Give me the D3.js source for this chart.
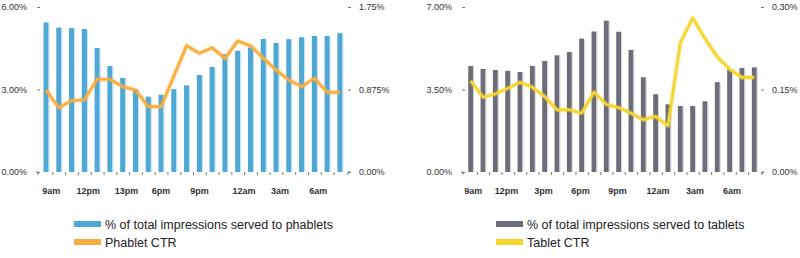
<!DOCTYPE html>
<html>
<head>
<meta charset="utf-8">
<script src="https://cdn.jsdelivr.net/npm/d3@7"></script>
<style>
body { margin: 0; background: #fff; }
svg { font-family: "Liberation Sans", Arial, sans-serif; }
.axis text { fill: #333; font-size: 9px; }
.axis line { stroke: #777; }
.xlab { font-size: 9px; font-weight: bold; fill: #333; text-anchor: middle; }
.legend text { font-size: 12.5px; fill: #222; }
</style>
</head>
<body>
<svg width="800" height="258"></svg>
<script>
// hours of the day, one bar each
var hours = ['9am','10am','11am','12pm','1pm','2pm','3pm','4pm','5pm','6pm','7pm','8pm',
             '9pm','10pm','11pm','12am','1am','2am','3am','4am','5am','6am','7am','8am'];

// % of total impressions
var phabletShare = [5.44,5.25,5.23,5.20,4.51,3.85,3.42,3.01,2.74,2.81,3.01,3.15,
                    3.53,3.82,4.29,4.41,4.53,4.84,4.69,4.83,4.90,4.95,4.95,5.05];
var tabletShare  = [4.50,4.37,4.33,4.29,4.24,4.50,4.71,4.95,5.09,5.66,5.96,6.42,
                    5.95,5.18,4.02,3.30,2.87,2.80,2.80,3.00,3.81,4.36,4.41,4.44];

// CTR
var phabletCtr = [0.870,0.682,0.756,0.767,0.983,0.983,0.905,0.870,0.693,0.693,1.018,1.340,
                  1.259,1.318,1.206,1.389,1.340,1.206,1.082,0.976,0.905,0.994,0.845,0.845];
var tabletCtr  = [0.166,0.136,0.142,0.152,0.163,0.154,0.137,0.113,0.113,0.107,0.145,0.123,
                  0.117,0.107,0.095,0.101,0.084,0.235,0.280,0.243,0.209,0.187,0.172,0.172];

// x tick labels and where they sit (in bar index units)
var phabletLabels = ['9am','12pm','13pm','6pm','9pm','12am','3am','6am'];
var phabletSlots  = [0.4, 3.3, 6.3, 9.0, 12.0, 15.5, 18.3, 21.3];
var tabletLabels  = ['9am','12pm','3pm','6pm','9pm','12am','3am','6am'];
var tabletSlots   = [0.2, 2.9, 5.9, 8.9, 11.9, 15.2, 18.2, 21.2];

var phabletTicks = [0, 3, 6],  phabletCtrTicks = [0, 0.875, 1.75];
var tabletTicks  = [0, 3.5, 7], tabletCtrTicks  = [0, 0.15, 0.30];

var phabletLegend = ['% of total impressions served to phablets', 'Phablet CTR'];
var tabletLegend  = ['% of total impressions served to tablets', 'Tablet CTR'];

var svg = d3.select('svg');
var yTop = 7, yBase = 172;

// 2 decimals, 3 when needed (0.875%)
function pct(v) {
    var h = v * 100;
    return (Math.abs(h - Math.round(h)) > 1e-6 ? v.toFixed(3) : v.toFixed(2)) + '%';
}

var charts = [
    {bars: phabletShare, line: phabletCtr, ticks: phabletTicks, ticks2: phabletCtrTicks,
     labels: phabletLabels, slots: phabletSlots, legend: phabletLegend,
     xRange: [38, 348], pOuter: 0.43, leftX: 40, rightX: 348, legendX: 74,
     barColor: '#4ea8d6', edgeColor: '#c4e2f2', lineColor: '#f9ad3e'},
    {bars: tabletShare, line: tabletCtr, ticks: tabletTicks, ticks2: tabletCtrTicks,
     labels: tabletLabels, slots: tabletSlots, legend: tabletLegend,
     xRange: [463, 762], pOuter: 0.425, leftX: 465, rightX: 761, legendX: 496,
     barColor: '#6c6d78', edgeColor: '#d4d5da', lineColor: '#f5d52e'}
];

charts.forEach(function(c) {
    var g = svg.append('g');

    var x = d3.scaleBand().domain(hours).range(c.xRange)
        .paddingInner(0.6).paddingOuter(c.pOuter);
    var y = d3.scaleLinear().domain([0, d3.max(c.ticks)]).range([yBase, yTop]);
    var y2 = d3.scaleLinear().domain([0, d3.max(c.ticks2)]).range([yBase, yTop]);
    var bw = x.bandwidth();
    var idx = d3.scaleLinear().domain([0, 23])
        .range([x(hours[0]) + bw / 2, x(hours[23]) + bw / 2]);

    // left / right axes
    g.append('g').attr('class', 'axis')
        .attr('transform', 'translate(' + c.leftX + ',0)')
        .call(d3.axisLeft(y).tickValues(c.ticks).tickFormat(pct).tickSize(3).tickPadding(10))
        .call(function(a) { a.select('.domain').remove(); });
    g.append('g').attr('class', 'axis')
        .attr('transform', 'translate(' + c.rightX + ',0)')
        .call(d3.axisRight(y2).tickValues(c.ticks2).tickFormat(pct).tickSize(3).tickPadding(8))
        .call(function(a) { a.select('.domain').remove(); });

    // bars with a light right edge
    g.selectAll('.bar').data(c.bars).enter().append('rect')
        .attr('class', 'bar')
        .attr('x', function(d, i) { return x(hours[i]); })
        .attr('y', function(d) { return y(d); })
        .attr('width', bw)
        .attr('height', function(d) { return yBase - y(d); })
        .style('fill', c.barColor);
    g.selectAll('.edge').data(c.bars).enter().append('rect')
        .attr('class', 'edge')
        .attr('x', function(d, i) { return x(hours[i]) + bw; })
        .attr('y', function(d) { return y(d) + 1; })
        .attr('width', 1)
        .attr('height', function(d) { return yBase - y(d) - 1; })
        .style('fill', c.edgeColor);

    // bottom ticks between bars
    g.append('g').attr('class', 'axis')
        .attr('transform', 'translate(0,' + yBase + ')')
        .call(d3.axisBottom(idx).tickValues(d3.range(0.5, 23, 1)).tickFormat('').tickSize(3))
        .call(function(a) { a.select('.domain').remove(); });
    var r = x.range();
    g.append('path')
        .attr('d', 'M' + (r[0] - 2) + ',' + yBase + 'H' + r[0] + 'V' + (yBase + 3) +
                   'M' + (r[1] + 2) + ',' + yBase + 'H' + r[1] + 'V' + (yBase + 3))
        .style('fill', 'none').style('stroke', '#777');

    g.selectAll('.xlab').data(c.labels).enter().append('text')
        .attr('class', 'xlab')
        .attr('x', function(d, i) { return idx(c.slots[i]); })
        .attr('y', 194)
        .text(function(d) { return d; });

    // CTR line
    var line = d3.line()
        .x(function(d, i) { return idx(i); })
        .y(function(d) { return y2(d); });
    g.append('path').datum(c.line)
        .attr('d', line)
        .style('fill', 'none').style('stroke', c.lineColor)
        .style('stroke-opacity', 0.35).style('stroke-width', 5)
        .style('stroke-linejoin', 'round');
    g.append('path').datum(c.line)
        .attr('d', line)
        .style('fill', 'none').style('stroke', c.lineColor)
        .style('stroke-width', 2.6).style('stroke-linejoin', 'round');

    // legend
    var lg = g.append('g').attr('class', 'legend')
        .attr('transform', 'translate(' + c.legendX + ',221)');
    lg.selectAll('rect').data(c.legend).enter().append('rect')
        .attr('x', 0).attr('y', function(d, i) { return i * 18; })
        .attr('width', 27).attr('height', 6)
        .style('fill', function(d, i) { return i ? c.lineColor : c.barColor; });
    lg.selectAll('text').data(c.legend).enter().append('text')
        .attr('x', 31).attr('y', function(d, i) { return i * 18 + 7.5; })
        .text(function(d) { return d; });
});
</script>
</body>
</html>
